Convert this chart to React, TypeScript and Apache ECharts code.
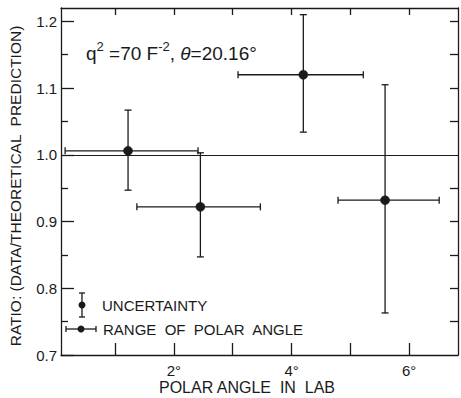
import React, { useEffect, useRef } from "react";
import * as echarts from "echarts";

// Data
const angle = [1.22, 2.45, 4.2, 5.59];
const angleLow = [0.15, 1.37, 3.09, 4.79];
const angleHigh = [2.41, 3.47, 5.22, 6.51];
const ratio = [1.006, 0.922, 1.12, 0.932];
const ratioLow = [0.947, 0.847, 1.034, 0.763];
const ratioHigh = [1.067, 1.003, 1.21, 1.105];

const yMajor = [0.7, 0.8, 0.9, 1.0, 1.1, 1.2];
const yMajorLabels = ["0.7", "0.8", "0.9", "1.0", "1.1", "1.2"];
const yMinor = [0.75, 0.85, 0.95, 1.05, 1.15];
const yAll = [0.75, 0.8, 0.85, 0.9, 0.95, 1.05, 1.1, 1.15, 1.2];
const xTicks = [1, 2, 3, 4, 5, 6];
const xLabelVals = [2, 4, 6];
const referenceRatio = 1.0;

const INK = "#1a1a1a";
const FONT = "Liberation Sans, Arial, sans-serif";

export default function App() {
  const ref = useRef<HTMLDivElement>(null);
  useEffect(() => {
    if (!ref.current) return;
    const chart = echarts.init(ref.current, undefined, { renderer: "svg" });
    const data = angle.map((a, i) => [a, ratio[i], angleLow[i], angleHigh[i], ratioLow[i], ratioHigh[i]]);
    const yMin = 0.7, yMax = 1.22, xMin = 0.08, xMax = 6.83;
    const axisLine = { show: true, lineStyle: { color: INK, width: 1.3 } };
    const option: any = {
      animation: false,
      backgroundColor: "#fff",
      grid: { left: 61, right: 3, top: 8, bottom: 43 },
      xAxis: [
        {
          type: "value", min: xMin, max: xMax, position: "bottom",
          axisLine,
          axisTick: { show: true, inside: true, length: 12, customValues: xTicks, lineStyle: { color: INK, width: 1.3 } },
          axisLabel: {
            show: true, customValues: xLabelVals, margin: 8,
            formatter: (v: number) => `${v}°`,
            color: INK, fontSize: 15, fontFamily: FONT,
          },
          splitLine: { show: false },
        },
        {
          type: "value", min: xMin, max: xMax, position: "top",
          axisLine,
          axisTick: { show: true, inside: true, length: 7, customValues: xTicks, lineStyle: { color: INK, width: 1.3 } },
          axisLabel: { show: false },
          splitLine: { show: false },
        },
      ],
      yAxis: [
        {
          type: "value", min: yMin, max: yMax, position: "left",
          axisLine,
          axisTick: { show: true, inside: true, length: 13, customValues: yMajor, lineStyle: { color: INK, width: 1.3 } },
          axisLabel: {
            show: true, customValues: yMajor, margin: 4,
            formatter: (v: number) => yMajorLabels[yMajor.findIndex((m) => Math.abs(m - v) < 1e-6)] ?? "",
            color: INK, fontSize: 15, fontFamily: FONT,
          },
          splitLine: { show: false },
        },
        {
          type: "value", min: yMin, max: yMax, position: "left",
          axisLine: { show: false },
          axisTick: { show: true, inside: true, length: 7, customValues: yMinor, lineStyle: { color: INK, width: 1.3 } },
          axisLabel: { show: false },
          splitLine: { show: false },
        },
        {
          type: "value", min: yMin, max: yMax, position: "right",
          axisLine,
          axisTick: { show: true, inside: true, length: 8, customValues: yAll, lineStyle: { color: INK, width: 1.3 } },
          axisLabel: { show: false },
          splitLine: { show: false },
        },
      ],
      series: [
        {
          type: "custom",
          xAxisIndex: 0,
          yAxisIndex: 0,
          data,
          clip: false,
          renderItem: (params: any, api: any) => {
            const x = api.value(0), y = api.value(1);
            const xl = api.value(2), xh = api.value(3), yl = api.value(4), yh = api.value(5);
            const c = api.coord([x, y]);
            const l = api.coord([xl, y]);
            const h = api.coord([xh, y]);
            const b = api.coord([x, yl]);
            const t = api.coord([x, yh]);
            const cap = 3.5;
            const style = { stroke: INK, lineWidth: 1.3, fill: null };
            return {
              type: "group",
              children: [
                { type: "line", shape: { x1: l[0], y1: c[1], x2: h[0], y2: c[1] }, style },
                { type: "line", shape: { x1: l[0], y1: c[1] - cap, x2: l[0], y2: c[1] + cap }, style },
                { type: "line", shape: { x1: h[0], y1: c[1] - cap, x2: h[0], y2: c[1] + cap }, style },
                { type: "line", shape: { x1: c[0], y1: b[1], x2: c[0], y2: t[1] }, style },
                { type: "line", shape: { x1: c[0] - cap, y1: b[1], x2: c[0] + cap, y2: b[1] }, style },
                { type: "line", shape: { x1: c[0] - cap, y1: t[1], x2: c[0] + cap, y2: t[1] }, style },
                { type: "circle", shape: { cx: c[0], cy: c[1], r: 4.5 }, style: { fill: INK, stroke: INK, lineWidth: 0.5 } },
              ],
            };
          },
          markLine: {
            silent: true,
            symbol: "none",
            label: { show: false },
            lineStyle: { color: INK, width: 1.1, type: "solid" },
            data: [{ yAxis: referenceRatio }],
          },
        },
      ],
      graphic: [
        {
          type: "text",
          left: 86,
          top: 40,
          style: {
            text: "{a|q}{s|2}{a| =70 F}{s|-2}{a|, }{i|θ}{a|=20.16°}",
            rich: {
              a: { fontSize: 19, fontFamily: FONT, fill: INK, lineHeight: 26 },
              i: { fontSize: 19, fontFamily: FONT, fill: INK, lineHeight: 26, fontStyle: "italic" },
              s: { fontSize: 13, fontFamily: FONT, fill: INK, lineHeight: 14, verticalAlign: "top" },
            },
          },
        },
        // legend: uncertainty symbol
        { type: "line", shape: { x1: 82, y1: 293, x2: 82, y2: 317 }, style: { stroke: INK, lineWidth: 1.3 } },
        { type: "line", shape: { x1: 79, y1: 293, x2: 85, y2: 293 }, style: { stroke: INK, lineWidth: 1.3 } },
        { type: "line", shape: { x1: 79, y1: 317, x2: 85, y2: 317 }, style: { stroke: INK, lineWidth: 1.3 } },
        { type: "circle", shape: { cx: 82, cy: 305, r: 3.5 }, style: { fill: INK } },
        {
          type: "text", left: 102, top: 298,
          style: { text: "UNCERTAINTY", fontSize: 15, fontFamily: FONT, fill: INK },
        },
        // legend: range symbol
        { type: "line", shape: { x1: 66, y1: 329, x2: 96, y2: 329 }, style: { stroke: INK, lineWidth: 1.3 } },
        { type: "line", shape: { x1: 66, y1: 326, x2: 66, y2: 332 }, style: { stroke: INK, lineWidth: 1.3 } },
        { type: "line", shape: { x1: 96, y1: 326, x2: 96, y2: 332 }, style: { stroke: INK, lineWidth: 1.3 } },
        { type: "circle", shape: { cx: 81, cy: 329, r: 3.5 }, style: { fill: INK } },
        {
          type: "text", left: 103, top: 322,
          style: { text: "RANGE  OF  POLAR  ANGLE", fontSize: 15, fontFamily: FONT, fill: INK },
        },
        // axis titles
        {
          type: "text", x: 247, y: 387,
          style: { text: "POLAR ANGLE  IN  LAB", fontSize: 16, fontFamily: FONT, fill: INK, align: "center", verticalAlign: "middle" },
        },
        {
          type: "text", x: 15, y: 186, rotation: Math.PI / 2,
          style: { text: "RATIO: (DATA/THEORETICAL  PREDICTION)", fontSize: 15.5, fontFamily: FONT, fill: INK, align: "center", verticalAlign: "middle" },
        },
      ],
    };
    chart.setOption(option);
    return () => chart.dispose();
  }, []);
  return <div ref={ref} style={{ width: 461, height: 398, position: "absolute", left: 0, top: 0 }} />;
}
